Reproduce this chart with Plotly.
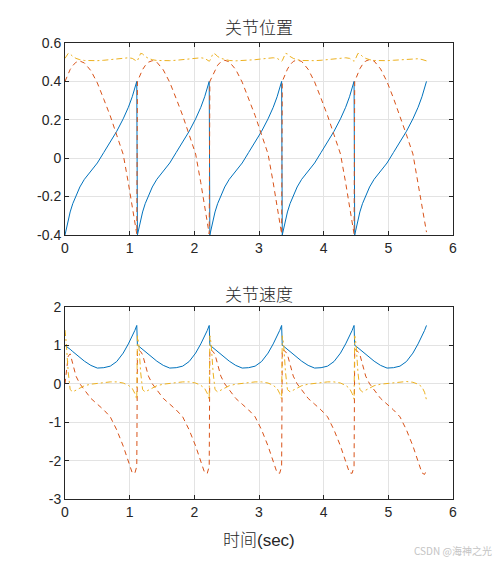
import plotly.graph_objects as go
from plotly.subplots import make_subplots

# time samples (s)
t = [0.00,0.02,0.05,0.08,0.12,0.17,0.23,0.30,0.40,0.50,0.60,0.70,0.80,0.90,0.98,1.04,1.08,1.11,
     1.12,1.14,1.17,1.20,1.24,1.29,1.35,1.42,1.52,1.62,1.72,1.82,1.92,2.02,2.10,2.16,2.20,2.23,
     2.24,2.26,2.29,2.32,2.36,2.41,2.47,2.54,2.64,2.74,2.84,2.94,3.04,3.14,3.22,3.28,3.32,3.35,
     3.36,3.38,3.41,3.44,3.48,3.53,3.59,3.66,3.76,3.86,3.96,4.06,4.16,4.26,4.34,4.40,4.44,4.47,
     4.48,4.50,4.53,4.56,4.60,4.65,4.71,4.78,4.88,4.98,5.08,5.18,5.28,5.38,5.46,5.52,5.56,5.59]

# joint positions
pos_j1 = [-0.400,-0.365,-0.320,-0.280,-0.237,-0.195,-0.150,-0.110,-0.065,-0.025,0.030,0.082,0.140,0.205,0.265,0.320,0.365,0.400,
          -0.400,-0.365,-0.320,-0.280,-0.237,-0.195,-0.150,-0.110,-0.065,-0.025,0.030,0.082,0.140,0.205,0.265,0.320,0.365,0.400,
          -0.400,-0.365,-0.320,-0.280,-0.237,-0.195,-0.150,-0.110,-0.065,-0.025,0.030,0.082,0.140,0.205,0.265,0.320,0.365,0.400,
          -0.400,-0.365,-0.320,-0.280,-0.237,-0.195,-0.150,-0.110,-0.065,-0.025,0.030,0.082,0.140,0.205,0.265,0.320,0.365,0.400,
          -0.400,-0.365,-0.320,-0.280,-0.237,-0.195,-0.150,-0.110,-0.065,-0.025,0.030,0.082,0.140,0.205,0.265,0.320,0.365,0.400]
pos_j2 = [0.400,0.415,0.440,0.462,0.482,0.500,0.506,0.496,0.456,0.392,0.307,0.220,0.120,0.020,-0.130,-0.250,-0.330,-0.395,
          0.400,0.415,0.440,0.462,0.482,0.500,0.508,0.500,0.460,0.395,0.310,0.222,0.122,0.022,-0.128,-0.250,-0.330,-0.395,
          0.400,0.415,0.440,0.462,0.484,0.502,0.510,0.502,0.462,0.396,0.310,0.222,0.122,0.022,-0.128,-0.250,-0.330,-0.395,
          0.400,0.416,0.441,0.464,0.486,0.504,0.512,0.504,0.463,0.397,0.311,0.222,0.122,0.022,-0.128,-0.250,-0.330,-0.395,
          0.400,0.416,0.442,0.466,0.488,0.506,0.514,0.506,0.465,0.398,0.312,0.222,0.122,0.022,-0.128,-0.250,-0.330,-0.385]
pos_j3 = [0.520,0.532,0.546,0.543,0.530,0.520,0.513,0.509,0.507,0.508,0.510,0.513,0.517,0.521,0.523,0.520,0.512,0.505,
          0.508,0.528,0.546,0.543,0.530,0.520,0.513,0.509,0.507,0.508,0.510,0.513,0.517,0.521,0.523,0.520,0.512,0.505,
          0.508,0.528,0.546,0.543,0.530,0.520,0.513,0.509,0.507,0.508,0.510,0.513,0.517,0.521,0.523,0.520,0.512,0.505,
          0.508,0.528,0.546,0.543,0.530,0.520,0.513,0.509,0.507,0.508,0.510,0.513,0.517,0.521,0.523,0.520,0.512,0.505,
          0.508,0.528,0.546,0.543,0.530,0.520,0.513,0.509,0.507,0.508,0.510,0.513,0.516,0.519,0.518,0.514,0.510,0.507]

# joint velocities
vel_j1 = [1.00,0.98,0.94,0.90,0.84,0.77,0.68,0.59,0.48,0.41,0.42,0.46,0.58,0.80,1.04,1.24,1.39,1.52,
          1.00,0.98,0.94,0.90,0.84,0.77,0.68,0.59,0.48,0.41,0.42,0.46,0.58,0.80,1.04,1.24,1.39,1.52,
          1.00,0.98,0.94,0.90,0.84,0.77,0.68,0.59,0.48,0.41,0.42,0.46,0.58,0.80,1.04,1.24,1.39,1.52,
          1.00,0.98,0.94,0.90,0.84,0.77,0.68,0.59,0.48,0.41,0.42,0.46,0.58,0.80,1.04,1.24,1.39,1.52,
          1.00,0.98,0.94,0.90,0.84,0.77,0.68,0.59,0.48,0.41,0.42,0.46,0.58,0.80,1.04,1.24,1.39,1.52]
vel_j2 = [0.00,0.35,0.72,0.78,0.50,0.20,0.00,-0.17,-0.38,-0.53,-0.68,-0.86,-1.20,-1.62,-2.05,-2.32,-2.33,-2.15,
          0.90,0.88,0.84,0.76,0.50,0.20,0.00,-0.17,-0.38,-0.53,-0.68,-0.86,-1.20,-1.62,-2.05,-2.32,-2.33,-2.15,
          0.90,0.88,0.84,0.76,0.50,0.20,0.00,-0.17,-0.38,-0.53,-0.68,-0.86,-1.20,-1.62,-2.05,-2.32,-2.33,-2.15,
          0.90,0.88,0.84,0.76,0.50,0.20,0.00,-0.17,-0.38,-0.53,-0.68,-0.86,-1.20,-1.62,-2.05,-2.32,-2.33,-2.15,
          0.90,0.88,0.84,0.76,0.50,0.20,0.00,-0.17,-0.38,-0.53,-0.68,-0.86,-1.20,-1.62,-2.05,-2.32,-2.36,-2.25]
vel_j3 = [1.40,1.05,0.30,-0.15,-0.21,-0.17,-0.11,-0.05,-0.01,0.01,0.03,0.05,0.05,0.02,-0.04,-0.12,-0.25,-0.40,
          1.25,1.05,0.30,-0.15,-0.21,-0.17,-0.11,-0.05,-0.01,0.01,0.03,0.05,0.05,0.02,-0.04,-0.12,-0.25,-0.40,
          1.25,1.05,0.30,-0.15,-0.21,-0.17,-0.11,-0.05,-0.01,0.01,0.03,0.05,0.05,0.02,-0.04,-0.12,-0.25,-0.40,
          1.25,1.05,0.30,-0.15,-0.21,-0.17,-0.11,-0.05,-0.01,0.01,0.03,0.05,0.05,0.02,-0.04,-0.12,-0.25,-0.40,
          1.25,1.05,0.30,-0.15,-0.21,-0.17,-0.11,-0.05,-0.01,0.01,0.03,0.05,0.06,0.04,-0.01,-0.08,-0.22,-0.42]

x_ticks = [0, 1, 2, 3, 4, 5, 6]
x_labels = ["0", "1", "2", "3", "4", "5", "6"]
pos_ticks = [-0.4, -0.2, 0, 0.2, 0.4, 0.6]
pos_labels = ["-0.4", "-0.2", "0", "0.2", "0.4", "0.6"]
vel_ticks = [-3, -2, -1, 0, 1, 2]
vel_labels = ["-3", "-2", "-1", "0", "1", "2"]

title_pos = "关节位置"
title_vel = "关节速度"
xlabel = "时间(sec)"
watermark = "CSDN @海神之光"

colors = ["#0072BD", "#D95319", "#EDB120"]
dashes = ["solid", "5px,4px", "6px,3px,2px,3px"]

fig = make_subplots(rows=2, cols=1, vertical_spacing=0.158)

for i, series in enumerate([pos_j1, pos_j2, pos_j3]):
    fig.add_trace(go.Scatter(x=t, y=series, mode="lines",
                             line=dict(color=colors[i], width=1, dash=dashes[i]),
                             showlegend=False), row=1, col=1)
for i, series in enumerate([vel_j1, vel_j2, vel_j3]):
    fig.add_trace(go.Scatter(x=t, y=series, mode="lines",
                             line=dict(color=colors[i], width=1, dash=dashes[i]),
                             showlegend=False), row=2, col=1)

tick_font = dict(family="Liberation Sans, Arial, sans-serif", size=14, color="#262626")
axis_common = dict(showline=True, linecolor="#262626", linewidth=1, mirror="ticks",
                   ticks="inside", ticklen=4, tickcolor="#262626",
                   showgrid=True, gridcolor="#e3e3e3", gridwidth=1,
                   zeroline=False, tickfont=tick_font)

fig.update_xaxes(range=[0, 6], tickvals=x_ticks, ticktext=x_labels, **axis_common)
fig.update_yaxes(range=[-0.4, 0.6], tickvals=pos_ticks, ticktext=pos_labels, row=1, col=1, **axis_common)
fig.update_yaxes(range=[-3, 2], tickvals=vel_ticks, ticktext=vel_labels, row=2, col=1, **axis_common)

fig.update_layout(
    width=492, height=554,
    margin=dict(l=57, r=47, t=35, b=63),
    paper_bgcolor="white", plot_bgcolor="white",
    annotations=[
        dict(text=title_pos, x=0.5, y=1.036, xref="paper", yref="paper",
             xanchor="center", yanchor="middle", showarrow=False,
             font=dict(family="Noto Sans CJK SC", size=17, color="#262626", weight=300)),
        dict(text=title_vel, x=0.5, y=0.451, xref="paper", yref="paper",
             xanchor="center", yanchor="middle", showarrow=False,
             font=dict(family="Noto Sans CJK SC", size=17, color="#262626", weight=300)),
        dict(text=xlabel, x=0.5, y=-0.09, xref="paper", yref="paper",
             xanchor="center", yanchor="middle", showarrow=False,
             font=dict(family="Liberation Sans, Noto Sans CJK SC", size=17, color="#262626", weight=300)),
        dict(text=watermark, x=1.105, y=-0.112, xref="paper", yref="paper",
             xanchor="right", yanchor="middle", showarrow=False,
             font=dict(family="Noto Sans CJK SC", size=10, color="#c4c4c4")),
    ],
)

fig.write_html("out.html")
